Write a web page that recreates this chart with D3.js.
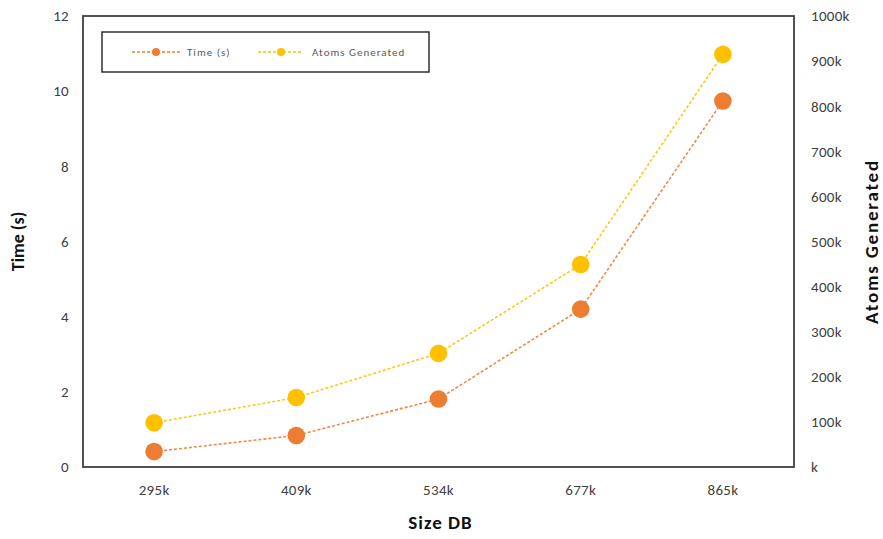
<!DOCTYPE html>
<html>
<head>
<meta charset="utf-8">
<script src="https://cdn.jsdelivr.net/npm/d3@7"></script>
<style>
  html, body { margin: 0; padding: 0; background: #fff; }
  svg { display: block; font-family: Calibri, Carlito, Lato, "Open Sans", sans-serif; }
</style>
</head>
<body>
<svg id="chart" width="883" height="539"></svg>
<script>
// Database sizes on the x axis
const sizes = ["295k", "409k", "534k", "677k", "865k"];
// Runtime in seconds (left axis)
const timeSec = [0.41, 0.84, 1.81, 4.20, 9.74];
// Atoms generated, in thousands (right axis)
const atomsK = [98, 154, 252, 449, 915];

const timeTicks = [0, 2, 4, 6, 8, 10, 12];
const atomTicks = [0, 100, 200, 300, 400, 500, 600, 700, 800, 900, 1000];
const atomTickLabels = ["k", "100k", "200k", "300k", "400k", "500k", "600k", "700k", "800k", "900k", "1000k"];

const seriesNames = ["Time (s)", "Atoms Generated"];
const colors = ["#ED7D31", "#FFC000"];

const svg = d3.select("#chart");
const plot = { left: 83, top: 16, right: 794, bottom: 467 };

const x = d3.scaleBand().domain(sizes).range([plot.left, plot.right]);
const yL = d3.scaleLinear().domain([0, 12]).range([plot.bottom, plot.top]);
const yR = d3.scaleLinear().domain([0, 1000]).range([plot.bottom, plot.top]);

const styleTicks = sel => sel.selectAll("text")
  .attr("fill", "#404040").style("font-size", "15px")
  .style("letter-spacing", "0.3px")
  .style("font-family", "Calibri, Carlito, Lato, sans-serif");

// Left axis labels
svg.append("g").attr("transform", `translate(${plot.left},0)`)
  .call(d3.axisLeft(yL).tickValues(timeTicks).tickSize(0).tickPadding(14))
  .call(g => g.select(".domain").remove())
  .call(styleTicks);

// Right axis labels
svg.append("g").attr("transform", `translate(${plot.right},0)`)
  .call(d3.axisRight(yR).tickValues(atomTicks).tickSize(0).tickPadding(17)
    .tickFormat((d, i) => atomTickLabels[i]))
  .call(g => g.select(".domain").remove())
  .call(styleTicks);

// Bottom axis labels
svg.append("g").attr("transform", `translate(0,${plot.bottom})`)
  .call(d3.axisBottom(x).tickSize(0).tickPadding(17))
  .call(g => g.select(".domain").remove())
  .call(styleTicks);

// Plot frame
svg.append("rect")
  .attr("x", plot.left).attr("y", plot.top)
  .attr("width", plot.right - plot.left).attr("height", plot.bottom - plot.top)
  .attr("fill", "none").attr("stroke", "#404040").attr("stroke-width", 1.8);

// Axis titles
svg.append("text").attr("x", (plot.left + plot.right) / 2 + 2).attr("y", 529)
  .attr("text-anchor", "middle").attr("font-weight", "bold").attr("font-size", 19)
  .attr("letter-spacing", "1px").attr("fill", "#111").text("Size DB");
svg.append("text").attr("transform", `translate(24,${(plot.top + plot.bottom) / 2}) rotate(-90)`)
  .attr("text-anchor", "middle").attr("font-weight", "bold").attr("font-size", 18)
  .attr("fill", "#111").text("Time (s)");
svg.append("text").attr("transform", `translate(878,${(plot.top + plot.bottom) / 2}) rotate(-90)`)
  .attr("text-anchor", "middle").attr("font-weight", "bold").attr("font-size", 19)
  .attr("letter-spacing", "1.8px").attr("fill", "#111").text("Atoms Generated");

// Series lines and markers
const cx = d => x(d) + x.bandwidth() / 2;
const series = [
  { values: timeSec, y: yL, color: colors[0] },
  { values: atomsK, y: yR, color: colors[1] }
];
series.forEach(s => {
  const pts = sizes.map((c, i) => [cx(c), s.y(s.values[i])]);
  svg.append("path").attr("d", d3.line()(pts))
    .attr("fill", "none").attr("stroke", s.color).attr("stroke-width", 1.6)
    .attr("stroke-dasharray", "3,2").attr("opacity", 0.9);
  svg.append("g").selectAll("circle").data(pts).join("circle")
    .attr("cx", d => d[0]).attr("cy", d => d[1]).attr("r", 8.8)
    .attr("fill", s.color);
});

// Legend
const legend = svg.append("g");
legend.append("rect").attr("x", 102).attr("y", 32).attr("width", 327).attr("height", 40)
  .attr("fill", "#fff").attr("stroke", "#222").attr("stroke-width", 1.4);
const items = [
  { x0: 132, x1: 182, mx: 156, tx: 187 },
  { x0: 258, x1: 302, mx: 281, tx: 312 }
];
items.forEach((it, i) => {
  legend.append("line").attr("x1", it.x0).attr("x2", it.x1).attr("y1", 52).attr("y2", 52)
    .attr("stroke", colors[i]).attr("stroke-width", 1.4).attr("stroke-dasharray", "3,2");
  legend.append("circle").attr("cx", it.mx).attr("cy", 52).attr("r", 4).attr("fill", colors[i]);
  legend.append("text").attr("x", it.tx).attr("y", 56).attr("font-size", 11)
    .attr("letter-spacing", "1px").attr("fill", "#595959").text(seriesNames[i]);
});
</script>
</body>
</html>
